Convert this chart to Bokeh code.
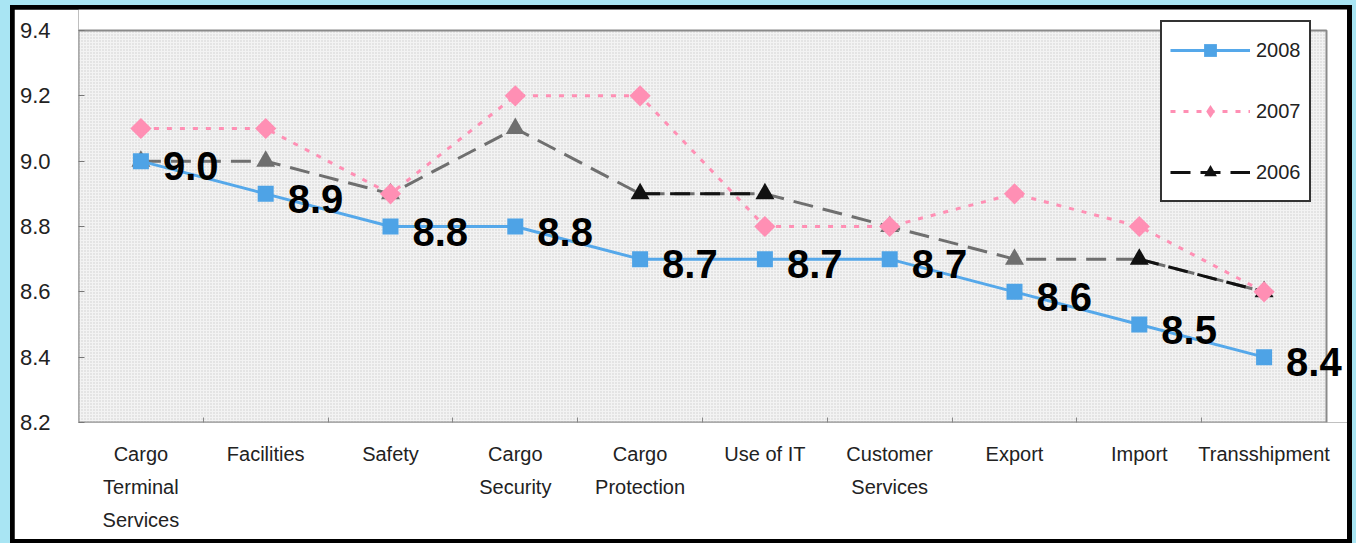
import numpy as np
from bokeh.plotting import figure
from bokeh.layouts import column
from bokeh.models import (Range1d, FixedTicker, NumeralTickFormatter, BoxAnnotation,
                          Legend, LegendItem)
from bokeh.core.properties import value
from bokeh.embed import file_html
from bokeh.resources import INLINE

# Satisfaction scores by service category
categories = ["Cargo\nTerminal\nServices", "Facilities", "Safety", "Cargo\nSecurity",
              "Cargo\nProtection", "Use of IT", "Customer\nServices", "Export",
              "Import", "Transshipment"]
score_2008 = [9.0, 8.9, 8.8, 8.8, 8.7, 8.7, 8.7, 8.6, 8.5, 8.4]
score_2007 = [9.1, 9.1, 8.9, 9.2, 9.2, 8.8, 8.8, 8.9, 8.8, 8.6]
score_2006 = [9.0, 9.0, 8.9, 9.1, 8.9, 8.9, 8.8, 8.7, 8.7, 8.6]
y_ticks = [8.2, 8.4, 8.6, 8.8, 9.0, 9.2, 9.4]
series_names = ["2008", "2007", "2006"]

# points of the 2006 series drawn in black instead of grey
dark_2006 = [False, False, False, False, True, True, False, False, True, True]

FONT = "Liberation Sans"
CYAN = "#a9e5f3"
BLUE = "#55a8ea"
PINK = "#ff8fb4"
GREY = "#6f6f6f"
BLACK = "#111111"

# card geometry (pixels)
CARD_W, CARD_H = 1333, 530
AREA_LEFT, AREA_TOP, AREA_W, AREA_H = 64, 21, 1248, 392

n = len(categories)
xs = list(range(n))
px_per_cat = AREA_W / n
px_per_unit = AREA_H / (y_ticks[-1] - y_ticks[0])
frame_w = CARD_W - AREA_LEFT
frame_h = AREA_TOP + AREA_H

# the frame reaches the card's top and right edges so labels and legend are not cut
x_range = Range1d(-0.5, -0.5 + frame_w / px_per_cat)
y_range = Range1d(y_ticks[0], y_ticks[0] + frame_h / px_per_unit)

fig = figure(width=CARD_W, height=CARD_H, x_range=x_range, y_range=y_range,
             output_backend="svg", toolbar_location=None,
             min_border_left=AREA_LEFT, min_border_right=0, min_border_top=0,
             min_border_bottom=CARD_H - frame_h)
fig.border_fill_color = "white"
fig.background_fill_color = "white"
fig.outline_line_color = None
fig.xgrid.visible = False
fig.ygrid.visible = False

# dotted grey plot area
area = BoxAnnotation(left=-0.5, right=n - 0.5, bottom=y_ticks[0], top=y_ticks[-1],
                     fill_color="#f3f3f3", fill_alpha=1, line_color="#8a8a8a",
                     line_alpha=1, line_width=2, hatch_pattern="dot", hatch_scale=3,
                     hatch_color="#cdcdcd", hatch_alpha=1, hatch_weight=1, level="underlay")
fig.add_layout(area)

# 2006: grey dashed line with black stretches
l06 = fig.line(xs, score_2006, line_color=GREY, line_width=3, line_dash="20 10")
seg_x, seg_y = [], []
for i in range(n - 1):
    if dark_2006[i] and dark_2006[i + 1]:
        seg_x.append([xs[i], xs[i + 1]])
        seg_y.append([score_2006[i], score_2006[i + 1]])
l06b = fig.multi_line(seg_x, seg_y, line_color=BLACK, line_width=3, line_dash="20 10")
gx = [x for x, d in zip(xs, dark_2006) if not d]
gy = [y for y, d in zip(score_2006, dark_2006) if not d]
bx = [x for x, d in zip(xs, dark_2006) if d]
by = [y for y, d in zip(score_2006, dark_2006) if d]
fig.scatter(gx, gy, marker="triangle", size=19, fill_color=GREY, line_color=None)
s06 = fig.scatter(bx, by, marker="triangle", size=19, fill_color=BLACK, line_color=None)

# 2007: pink dotted line with diamonds; the narrow diamonds serve as the legend
# swatch and sit beneath the wider rotated squares
l07 = fig.line(xs, score_2007, line_color=PINK, line_width=3, line_dash="5 8")
k07 = fig.scatter(xs, score_2007, marker="diamond", size=14, fill_color=PINK, line_color=None)
fig.scatter(xs, score_2007, marker="square", angle=np.pi / 4, size=15,
            fill_color=PINK, line_color=None)

# 2008: blue solid line with squares and value labels
l08 = fig.line(xs, score_2008, line_color=BLUE, line_width=3)
s08 = fig.scatter(xs, score_2008, marker="square", size=16, fill_color="#4ea3e6", line_color=None)
fig.text(xs, score_2008, text=[f"{v:.1f}" for v in score_2008], x_offset=22, y_offset=5,
         text_baseline="middle", text_align="left", text_font=value(FONT),
         text_font_style="bold", text_font_size="40px", text_color="black")

# axes
fig.yaxis.ticker = FixedTicker(ticks=y_ticks)
fig.yaxis.formatter = NumeralTickFormatter(format="0.0")
fig.yaxis.major_tick_in = 6
fig.yaxis.major_tick_out = 0
fig.yaxis.minor_tick_line_color = None
fig.yaxis.axis_line_color = None
fig.yaxis.major_tick_line_color = "#777777"
fig.yaxis.major_label_standoff = 28
fig.yaxis.major_label_text_font = FONT
fig.yaxis.major_label_text_font_size = "22px"
fig.yaxis.major_label_text_color = "#222222"

fig.xaxis.ticker = FixedTicker(ticks=xs, minor_ticks=[x + 0.5 for x in xs[:-1]])
fig.xaxis.major_label_overrides = {x: c for x, c in zip(xs, categories)}
fig.xaxis.major_tick_in = 0
fig.xaxis.major_tick_out = 0
fig.xaxis.minor_tick_in = 5
fig.xaxis.minor_tick_out = 0
fig.xaxis.minor_tick_line_color = "#888888"
fig.xaxis.axis_line_color = None
fig.xaxis.major_label_standoff = 20
fig.xaxis.major_label_text_font = FONT
fig.xaxis.major_label_text_font_size = "20px"
fig.xaxis.major_label_text_line_height = 1.5
fig.xaxis.major_label_text_color = "#222222"

legend = Legend(items=[LegendItem(label=series_names[0], renderers=[l08, s08]),
                       LegendItem(label=series_names[1], renderers=[l07, k07]),
                       LegendItem(label=series_names[2], renderers=[l06b, s06])],
                location=(1082, 220), glyph_width=80, glyph_height=32, label_height=40,
                spacing=21, padding=8, label_standoff=6, margin=0,
                border_line_color="#333333", border_line_width=2, border_line_alpha=1,
                background_fill_color="white", background_fill_alpha=1,
                label_text_font=FONT, label_text_font_size="20px",
                label_text_color="#222222")
fig.add_layout(legend)

# heavy black frame on a light cyan page
fig.margin = (4, 5, 4, 4)
card = column(fig, styles={"background-color": "black"}, margin=(5, 4, 0, 10))
p = column(card, styles={"background-color": CYAN})

open("out.html", "w").write(file_html(p, INLINE))
